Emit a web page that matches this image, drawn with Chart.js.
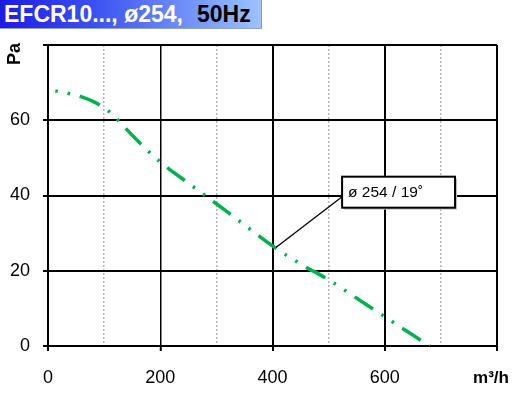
<!DOCTYPE html>
<html>
<head>
<meta charset="utf-8">
<script src="https://cdn.jsdelivr.net/npm/chart.js@4.4.1/dist/chart.umd.min.js"></script>
<style>
	html, body { margin: 0; padding: 0; background: #fff; }
	#wrap { position: relative; width: 526px; height: 393px; }
	#title {
		position: absolute; left: 0; top: 0; width: 262px; height: 29px;
		background: linear-gradient(to right, #1c1ce4, #3a4ff0 35%, #9dc3ff);
		border-right: 1px solid #8a9bb8; border-bottom: 1px solid #9aa3b0;
		font: bold 23px "Liberation Sans", Arial, sans-serif; line-height: 28px;
		white-space: nowrap; box-sizing: border-box; padding-left: 4px;
	}
	#title .w { color: #fff; }
	#title .k { color: #000; margin-left: 14px; }
</style>
</head>
<body>
<div id="wrap">
	<canvas id="myChart" width="526" height="393"></canvas>
	<div id="title"><span class="w">EFCR10..., ø254,</span><span class="k">50Hz</span></div>
</div>
<script>
// curve
var flow = [13, 40, 60, 80, 100, 115, 130, 150, 200, 250, 300, 350, 400, 450, 500, 550, 600, 650, 680];
var pressure = [67.8, 67.0, 66.2, 65.0, 63.3, 61.5, 59.2, 56.0, 48.9, 43.3, 37.8, 32.2, 26.6, 21.8, 17.6, 12.7, 7.8, 2.9, 0];

var xTicks = [0, 200, 400, 600];
var xUnit = 'm³/h';
var yUnit = 'Pa';
var curveLabel = 'ø 254 / 19˚';
// where the label box sits and which point it points at (data units)
var labelAt = { x: 524, y: 45 };
var pointerAt = { x: 406, y: 26.2 };

var points = flow.map(function (f, i) { return { x: f, y: pressure[i] }; });
var FONT = '"Liberation Sans", Arial, sans-serif';

var extras = {
	id: 'extras',
	afterDraw: function (chart) {
		var c = chart.ctx, xs = chart.scales.x, ys = chart.scales.y;
		c.save();
		c.fillStyle = '#000';
		// x unit in place of the last tick label
		c.font = 'bold 17px ' + FONT;
		c.textAlign = 'center';
		c.textBaseline = 'middle';
		c.fillText(xUnit, xs.right - 6, ys.bottom + 32);
		// y unit, rotated
		c.font = 'bold 18px ' + FONT;
		c.translate(15, 54);
		c.rotate(-Math.PI / 2);
		c.fillText(yUnit, 0, 0);
		c.restore();

		// label box with pointer
		var bx = xs.getPixelForValue(labelAt.x), by = ys.getPixelForValue(labelAt.y);
		var px = xs.getPixelForValue(pointerAt.x), py = ys.getPixelForValue(pointerAt.y);
		c.save();
		c.font = '15.5px ' + FONT;
		var w = c.measureText(curveLabel).width + 38, h = 31;
		c.strokeStyle = '#000';
		c.lineWidth = 1.3;
		c.beginPath();
		c.moveTo(px, py);
		c.lineTo(bx, by + 20);
		c.stroke();
		c.fillStyle = '#c8c8c8';
		c.fillRect(bx + 2, by + 2, w, h);
		c.fillStyle = '#fff';
		c.fillRect(bx, by, w, h);
		c.lineWidth = 2;
		c.strokeRect(bx, by, w, h);
		c.fillStyle = '#000';
		c.textBaseline = 'middle';
		c.fillText(curveLabel, bx + 6, by + h / 2 + 1);
		c.restore();
	}
};

var ctx = document.getElementById('myChart').getContext('2d');
var chart = new Chart(ctx, {
	type: 'scatter',
	data: {
		datasets: [{
			data: points,
			showLine: true,
			borderColor: '#00b050',
			borderWidth: 3.5,
			borderDash: [22, 10, 2.5, 10, 2.5, 10],
			borderDashOffset: 32,
			borderCapStyle: 'butt',
			cubicInterpolationMode: 'monotone',
			pointRadius: 0
		}]
	},
	options: {
		responsive: false,
		animation: false,
		layout: { padding: { top: 45, right: 29, left: 0, bottom: 0 } },
		plugins: { legend: { display: false }, tooltip: { enabled: false } },
		scales: {
			x: {
				type: 'linear',
				min: 0, max: 800,
				afterFit: function (s) { s.height = 47; s.paddingLeft = 0; s.paddingRight = 0; },
				ticks: {
					stepSize: 100,
					autoSkip: false,
					maxRotation: 0,
					padding: 16,
					color: '#000',
					font: { family: FONT, size: 18 },
					callback: function (v) { return xTicks.indexOf(v) >= 0 ? String(v) : ''; }
				},
				grid: {
					color: function (c) { return c.tick && c.tick.value % 200 === 0 ? '#000' : '#b4b4b4'; },
					lineWidth: function (c) {
						if (!c.tick) return 2;
						if (c.tick.value === 200) return 1.5;
						return c.tick.value % 200 === 0 ? 2 : 1.5;
					},
					tickLength: 5,
					tickColor: function (c) { return c.tick && c.tick.value % 200 === 0 ? '#000' : 'rgba(0,0,0,0)'; },
					tickWidth: 2
				},
				border: {
					color: '#000', width: 2,
					dash: function (c) { return c.tick && c.tick.value % 200 !== 0 ? [2, 2] : []; }
				}
			},
			y: {
				min: 0, max: 80,
				afterFit: function (s) { s.width = 48; },
				ticks: {
					stepSize: 20,
					padding: 13,
					color: '#000',
					font: { family: FONT, size: 18 },
					callback: function (v) { return v === 80 ? '' : String(v); }
				},
				grid: { color: '#000', lineWidth: 2, tickLength: 5, tickWidth: 2 },
				border: { color: '#000', width: 2 }
			}
		}
	},
	plugins: [extras]
});
</script>
</body>
</html>
